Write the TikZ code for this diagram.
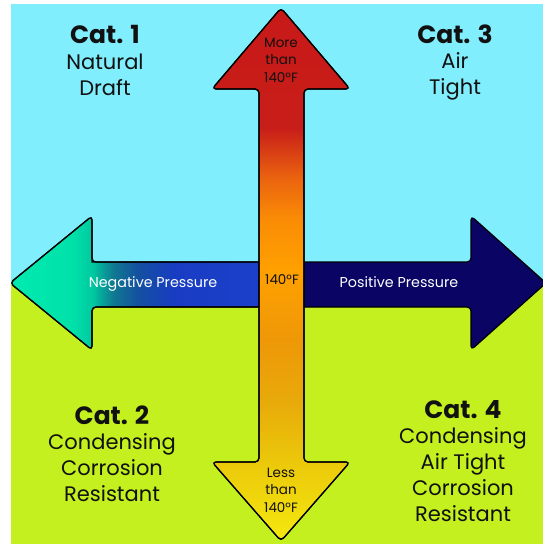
\documentclass[tikz,border=0pt]{standalone}
\usepackage{fontspec}
\setmainfont{Poppins}
\definecolor{skyc}{RGB}{128,238,252}
\definecolor{grassc}{RGB}{195,240,30}
\definecolor{navyc}{RGB}{10,5,100}
\definecolor{txtc}{RGB}{17,17,17}
\pgfdeclareverticalshading{tempshade}{100bp}{%
 color(0bp)=(rgb,255:red,245;green,232;blue,15);
 color(25bp)=(rgb,255:red,245;green,232;blue,15);
 color(32.5bp)=(rgb,255:red,235;green,200;blue,10);
 color(38.1bp)=(rgb,255:red,232;green,170;blue,10);
 color(43.8bp)=(rgb,255:red,238;green,152;blue,8);
 color(50.4bp)=(rgb,255:red,255;green,160;blue,0);
 color(55.2bp)=(rgb,255:red,250;green,140;blue,5);
 color(59bp)=(rgb,255:red,235;green,100;blue,15);
 color(63.7bp)=(rgb,255:red,200;green,30;blue,25);
 color(75bp)=(rgb,255:red,200;green,25;blue,25);
 color(100bp)=(rgb,255:red,200;green,25;blue,25)}
\pgfdeclarehorizontalshading{negshade}{100bp}{%
 color(0bp)=(rgb,255:red,0;green,235;blue,175);
 color(25bp)=(rgb,255:red,0;green,235;blue,175);
 color(36.5bp)=(rgb,255:red,0;green,225;blue,170);
 color(40.2bp)=(rgb,255:red,0;green,200;blue,160);
 color(44bp)=(rgb,255:red,15;green,120;blue,145);
 color(48.6bp)=(rgb,255:red,20;green,80;blue,160);
 color(55.1bp)=(rgb,255:red,25;green,60;blue,195);
 color(75bp)=(rgb,255:red,30;green,65;blue,205);
 color(100bp)=(rgb,255:red,30;green,65;blue,205)}
\tikzset{
  arrowshape/.style={draw=black, line width=1.2pt, rounded corners=4pt, line join=round},
  cattitle/.style={anchor=base, inner sep=0pt, text=txtc, font=\fontsize{25}{30}\selectfont\bfseries},
  catbody/.style={anchor=base, inner sep=0pt, text=txtc, align=center, font=\fontsize{21}{26}\selectfont},
  templabel/.style={anchor=base, inner sep=0pt, text=txtc, align=center, font=\fontsize{13.5}{17.5}\selectfont},
  presslabel/.style={anchor=base, inner sep=0pt, text=white, font=\fontsize{14.3}{17}\selectfont},
}
\begin{document}
\begin{tikzpicture}[x=1pt,y=-1pt]
\useasboundingbox (0,0) rectangle (543,544);
% background
\fill[skyc] (11,4) rectangle (543,284);
\fill[grassc] (11,284) rectangle (543,544);
% left arrow (negative pressure)
\path[arrowshape, shading=negshade]
  (282,262) -- (92,262) -- (92,216) -- (10,283) -- (92,350) -- (92,307) -- (282,307);
\draw[line width=1.2pt] (282,262) -- (92,262) [rounded corners=4pt] -- (92,216) -- (10,283) -- (92,350) -- (92,307) [sharp corners] -- (282,307);
% right arrow (positive pressure)
\filldraw[arrowshape, fill=navyc]
  (282,262) -- (471,262) -- (471,216) -- (546,283) -- (471,350) -- (471,307) -- (282,307);
% vertical arrow (temperature)
\path[arrowshape, shading=tempshade]
  (259,89) -- (212,89) -- (281,8) -- (350,89) -- (304,89) -- (304,462) -- (350,462) -- (281,541) -- (212,462) -- (259,462) -- cycle;
\draw[arrowshape]
  (259,89) -- (212,89) -- (281,8) -- (350,89) -- (304,89) -- (304,462) -- (350,462) -- (281,541) -- (212,462) -- (259,462) -- cycle;
% category texts (base anchor = baseline of last line)
\node[cattitle] (c1t) at (105,43) {Cat. 1};
\node[catbody] (c1b) at (105,95) {Natural\\Draft};
\node[cattitle] (c3t) at (455,43) {Cat. 3};
\node[catbody] (c3b) at (455,94) {Air\\Tight};
\node[cattitle] (c2t) at (112,424) {Cat. 2};
\node[catbody] (c2b) at (112,501) {Condensing\\Corrosion\\Resistant};
\node[cattitle] (c4t) at (463,418) {Cat. 4};
\node[catbody] (c4b) at (463,521) {Condensing\\Air Tight\\Corrosion\\Resistant};
% temperature labels
\node[templabel] (hot) at (281,82) {More\\than\\140°F};
\node[templabel] (mid) at (282,284) {140°F};
\node[templabel] (cold) at (281,512) {Less\\than\\140°F};
% pressure labels
\node[presslabel] (neg) at (153,287) {Negative Pressure};
\node[presslabel] (pos) at (399,287) {Positive Pressure};
\end{tikzpicture}
\end{document}
